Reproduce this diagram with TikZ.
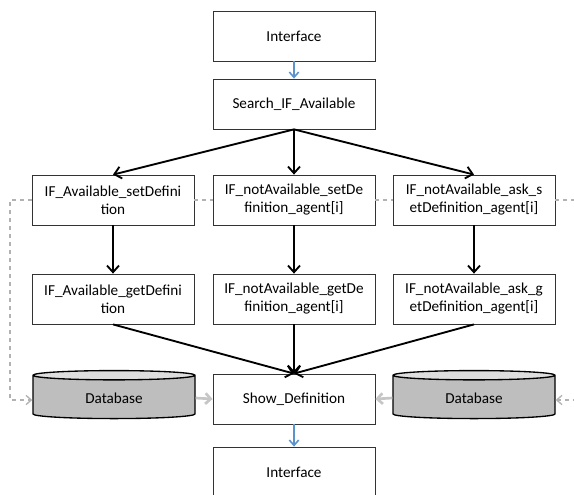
\documentclass[tikz,border=0pt]{standalone}
\usepackage{fontspec}
\setmainfont{Carlito}
\usetikzlibrary{arrows.meta,shapes.geometric}

\definecolor{flowblue}{RGB}{91,148,205}
\definecolor{dbbody}{RGB}{190,190,190}
\definecolor{dbtop}{RGB}{222,222,222}

\tikzset{
  box/.style={draw=black!80,line width=0.6pt,minimum width=121.5pt,minimum height=37.5pt,
    align=center,font=\fontsize{11.4}{13.5}\selectfont,inner sep=1pt},
  db/.style={cylinder,shape border rotate=90,aspect=0.14,draw=black,line width=1pt,
    minimum width=121.5pt,minimum height=36pt,cylinder uses custom fill,
    cylinder body fill=dbbody,cylinder end fill=dbtop,font=\fontsize{11.4}{13.5}\selectfont},
  flow/.style={line width=1.4pt,-{Straight Barb[length=5pt,width=9pt]}},
  blueflow/.style={draw=flowblue,line width=1.2pt,-{Straight Barb[length=4pt,width=7pt]}},
  link/.style={draw=gray!60,dashed,line width=1pt},
  store/.style={draw=gray!45,line width=2pt,-{Straight Barb[length=4pt,width=8pt]}}
}

\begin{document}
\begin{tikzpicture}[x=0.75pt,y=-0.75pt]

  \useasboundingbox (0,0) rectangle (574,495);

  % top of the flow
  \node[box] (int1) at (294,36) {Interface};
  \node[box] (search) at (294,104) {Search\_IF\_Available};

  % definitions
  \node[box] (avset)  at (113,200) {IF\_Available\_setDefini\\tion};
  \node[box] (nset)   at (294,200) {IF\_notAvailable\_setDe\\finition\_agent[i]};
  \node[box] (askset) at (474,200) {IF\_notAvailable\_ask\_s\\etDefinition\_agent[i]};

  \node[box] (avget)  at (113,299) {IF\_Available\_getDefini\\tion};
  \node[box] (nget)   at (294,299) {IF\_notAvailable\_getDe\\finition\_agent[i]};
  \node[box] (askget) at (474,299) {IF\_notAvailable\_ask\_g\\etDefinition\_agent[i]};

  % bottom
  \node[box] (show) at (294,399) {Show\_Definition};
  \node[db] (dbl) at (114,398) {Database};
  \node[db] (dbr) at (474,398) {Database};
  \node[box] (int2) at (294,472) {Interface};

  \coordinate (lup) at (10,200);
  \coordinate (ldown) at (10,400);
  \coordinate (rup) at (590,200);
  \coordinate (rdown) at (590,400);

  \draw[blueflow] (int1) -- (search);
  \draw[blueflow] (show) -- (int2);

  \draw[flow] (search.south) -- (avset.north);
  \draw[flow] (search.south) -- (nset.north);
  \draw[flow] (search.south) -- (askset.north);

  \draw[flow] (avset) -- (avget);
  \draw[flow] (nset) -- (nget);
  \draw[flow] (askset) -- (askget);

  \draw[flow] (avget.south) -- (show.north);
  \draw[flow] (nget.south) -- (show.north);
  \draw[flow] (askget.south) -- (show.north);

  % dashed links to the databases
  \draw[link] (avset) -- (nset);
  \draw[link] (nset) -- (askset);
  \draw[link,-{Straight Barb[length=4pt,width=7pt]}] (avset.west) -- (lup) -- (ldown) -- (dbl.west |- ldown);
  \draw[link,-{Straight Barb[length=4pt,width=7pt]}] (askset.east) -- (rup) -- (rdown) -- (dbr.east |- rdown);

  \draw[store] (dbl.east) -- (show.west);
  \draw[store] (dbr.west) -- (show.east);

\end{tikzpicture}
\end{document}
